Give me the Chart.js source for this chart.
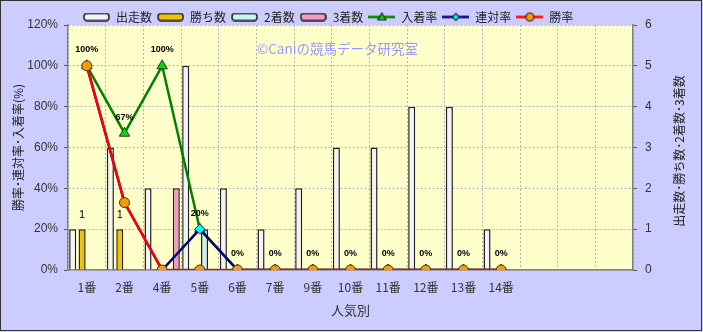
<!DOCTYPE html>
<html>
<head>
<meta charset="utf-8">
<script src="https://cdn.jsdelivr.net/npm/chart.js@4/dist/chart.umd.min.js"></script>
<style>
  html, body { margin: 0; padding: 0; background: #ccccff; }
  canvas { display: block; }
</style>
</head>
<body>
<canvas id="chart" width="703" height="332"></canvas>
<script>
// 人気別 data
var categories = ['1番', '2番', '4番', '5番', '6番', '7番', '9番', '10番', '11番', '12番', '13番', '14番', '', '', ''];
var starts   = [1, 3, 2, 5, 2, 1, 2, 3, 3, 4, 4, 1, null, null, null];
var wins     = [1, 1, 0, 0, 0, 0, 0, 0, 0, 0, 0, 0, null, null, null];
var seconds  = [0, 0, 0, 1, 0, 0, 0, 0, 0, 0, 0, 0, null, null, null];
var thirds   = [0, 0, 2, 0, 0, 0, 0, 0, 0, 0, 0, 0, null, null, null];
var placeRate    = [100, 67, 100, 20, 0, 0, 0, 0, 0, 0, 0, 0, null, null, null];
var quinellaRate = [100, 33, 0, 20, 0, 0, 0, 0, 0, 0, 0, 0, null, null, null];
var winRate      = [100, 33, 0, 0, 0, 0, 0, 0, 0, 0, 0, 0, null, null, null];
var rateTicks  = [0, 20, 40, 60, 80, 100, 120];
var countTicks = [0, 1, 2, 3, 4, 5, 6];

var FONT = '"Liberation Sans", "Noto Sans CJK JP", sans-serif';
var JP = '"Noto Sans CJK JP", "Liberation Sans", sans-serif';

// small canvases used as legend icons
function barIcon(fill) {
    var c = document.createElement('canvas');
    c.width = 27; c.height = 9;
    var g = c.getContext('2d');
    g.fillStyle = fill;
    g.strokeStyle = '#222';
    g.lineWidth = 1.5;
    g.beginPath();
    g.roundRect(1, 1, 25, 7, 3);
    g.fill();
    g.stroke();
    return c;
}
function lineIcon(color, fill, shape) {
    var c = document.createElement('canvas');
    c.width = 27; c.height = 11;
    var g = c.getContext('2d');
    g.strokeStyle = color;
    g.lineWidth = 2.5;
    g.beginPath(); g.moveTo(0, 5.5); g.lineTo(27, 5.5); g.stroke();
    g.fillStyle = fill;
    g.lineWidth = 1.2;
    g.strokeStyle = '#222';
    g.beginPath();
    if (shape === 'triangle') {
        g.moveTo(13.5, 1.5); g.lineTo(17.5, 8.5); g.lineTo(9.5, 8.5); g.closePath();
    } else if (shape === 'diamond') {
        g.moveTo(13.5, 2); g.lineTo(17, 5.5); g.lineTo(13.5, 9); g.lineTo(10, 5.5); g.closePath();
    } else {
        g.arc(13.5, 5.5, 4, 0, Math.PI * 2);
    }
    g.fill(); g.stroke();
    return c;
}
var legendIcons = [
    barIcon('#f4f4f4'), barIcon('#f2c200'), barIcon('#c8f4f4'), barIcon('#f29cc0'),
    lineIcon('#008000', '#00dd00', 'triangle'),
    lineIcon('#000080', '#00ffff', 'diamond'),
    lineIcon('#ff0000', '#ff9900', 'circle')
];

var decor = {
    id: 'decor',
    afterLayout: function (chart) {
        // legend sits left of centre in the original
        if (chart.legend) chart.legend.left = 78;
    },
    beforeDraw: function (chart) {
        var ctx = chart.ctx, a = chart.chartArea;
        ctx.save();
        ctx.fillStyle = '#ccccff';
        ctx.fillRect(0, 0, chart.width, chart.height);
        ctx.fillStyle = '#ffffcc';
        ctx.fillRect(a.left, a.top, a.right - a.left, a.bottom - a.top);
        ctx.restore();
    },
    beforeDatasetsDraw: function (chart) {
        var ctx = chart.ctx;
        ctx.save();
        ctx.fillStyle = '#9a9aff';
        ctx.font = '13.5px ' + JP;
        ctx.textBaseline = 'middle';
        ctx.fillText('©Caniの競馬データ研究室', 257, 49);
        ctx.restore();
    },
    afterDatasetsDraw: function (chart) {
        var ctx = chart.ctx;
        ctx.save();
        ctx.textAlign = 'center';
        ctx.textBaseline = 'middle';
        ctx.fillStyle = '#000';
        // 入着率 labels
        var pm = chart.getDatasetMeta(4);
        ctx.font = 'bold 9px ' + FONT;
        placeRate.forEach(function (v, i) {
            if (v === null) return;
            var p = pm.data[i];
            ctx.fillText(Math.round(v) + '%', p.x, p.y - 16);
        });
        // 勝ち数 labels
        var wm = chart.getDatasetMeta(1);
        ctx.font = '11px ' + FONT;
        wins.forEach(function (v, i) {
            if (!v) return;
            var b = wm.data[i];
            ctx.fillText(String(v), b.x, b.y - 14);
        });
        ctx.restore();
    },
    afterDraw: function (chart) {
        var ctx = chart.ctx;
        ctx.save();
        // right axis title, reading bottom to top
        ctx.translate(679, 151);
        ctx.rotate(-Math.PI / 2);
        ctx.textAlign = 'center';
        ctx.textBaseline = 'middle';
        ctx.fillStyle = '#222';
        ctx.font = '12px ' + JP;
        ctx.fillText('出走数･勝ち数･2着数･3着数', 0, 0);
        ctx.restore();
        ctx.save();
        ctx.strokeStyle = '#333';
        ctx.lineWidth = 1;
        ctx.strokeRect(0.5, 0.5, chart.width - 2, chart.height - 2);
        ctx.restore();
    }
};

function bar(label, data, color) {
    return {
        type: 'bar', label: label, data: data, yAxisID: 'y2', order: 10,
        backgroundColor: color, borderColor: '#222', borderWidth: 1.5,
        barPercentage: 0.75, categoryPercentage: 1
    };
}
function line(label, data, color, fill, style, radius, order) {
    return {
        type: 'line', label: label, data: data, yAxisID: 'y', order: order,
        borderColor: color, borderWidth: 2.5, pointStyle: style,
        pointRadius: radius, pointBackgroundColor: fill,
        pointBorderColor: '#333', pointBorderWidth: 1, tension: 0,
        spanGaps: false
    };
}

new Chart(document.getElementById('chart'), {
    data: {
        labels: categories,
        datasets: [
            bar('出走数', starts, '#f4f4f4'),
            bar('勝ち数', wins, '#f2c200'),
            bar('2着数', seconds, '#c8f4f4'),
            bar('3着数', thirds, '#f29cc0'),
            line('入着率', placeRate, '#008000', '#00dd00', 'triangle', 6, 3),
            line('連対率', quinellaRate, '#000080', '#00ffff', 'rectRot', 5, 2),
            line('勝率', winRate, '#ff0000', '#ff9900', 'circle', 5, 1)
        ]
    },
    options: {
        responsive: false,
        animation: false,
        devicePixelRatio: 1,
        layout: { padding: { left: 0, right: 0, top: 6, bottom: 0 } },
        plugins: {
            tooltip: { enabled: false },
            legend: {
                position: 'top',
                align: 'start',
                maxHeight: 19,
                labels: {
                    usePointStyle: true,
                    pointStyleWidth: 27,
                    padding: 5,
                    color: '#222',
                    font: { family: JP, size: 12 },
                    sort: function (a, b) { return a.datasetIndex - b.datasetIndex; },
                    generateLabels: function (chart) {
                        var items = Chart.defaults.plugins.legend.labels.generateLabels(chart);
                        items.forEach(function (it) { it.pointStyle = legendIcons[it.datasetIndex]; });
                        return items;
                    }
                }
            }
        },
        scales: {
            x: {
                offset: true,
                grid: { offset: true, color: '#b4b4b4', drawTicks: false },
                border: { color: '#808080', width: 1.5, dash: [2, 2] },
                ticks: { color: '#333', font: { family: JP, size: 12 }, padding: 10, maxRotation: 0, autoSkip: false },
                title: { display: true, text: '人気別', color: '#333', font: { family: JP, size: 13 }, padding: { top: 4, bottom: 14 } },
                afterFit: function (s) { s.height = 62; }
            },
            y: {
                position: 'left',
                min: 0, max: 120,
                afterBuildTicks: function (s) { s.ticks = rateTicks.map(function (v) { return { value: v }; }); },
                grid: { color: '#b4b4b4', tickColor: '#555', tickLength: 4 },
                border: { color: '#808080', width: 1.5, dash: [2, 2] },
                ticks: {
                    color: '#333', font: { family: FONT, size: 12 }, padding: 6,
                    callback: function (v) { return v + '%'; }
                },
                title: { display: true, text: '勝率･連対率･入着率(%)', color: '#222', font: { family: JP, size: 12 }, padding: { top: 11, bottom: 4 } },
                afterFit: function (s) { s.width = 68; }
            },
            y2: {
                position: 'right',
                min: 0, max: 6,
                afterBuildTicks: function (s) { s.ticks = countTicks.map(function (v) { return { value: v }; }); },
                grid: { drawOnChartArea: false, tickColor: '#555', tickLength: 4 },
                border: { color: '#808080', width: 1.5 },
                ticks: { color: '#333', font: { family: FONT, size: 12 }, padding: 8 },
                afterFit: function (s) { s.width = 70; }
            }
        }
    },
    plugins: [decor]
});
</script>
</body>
</html>
